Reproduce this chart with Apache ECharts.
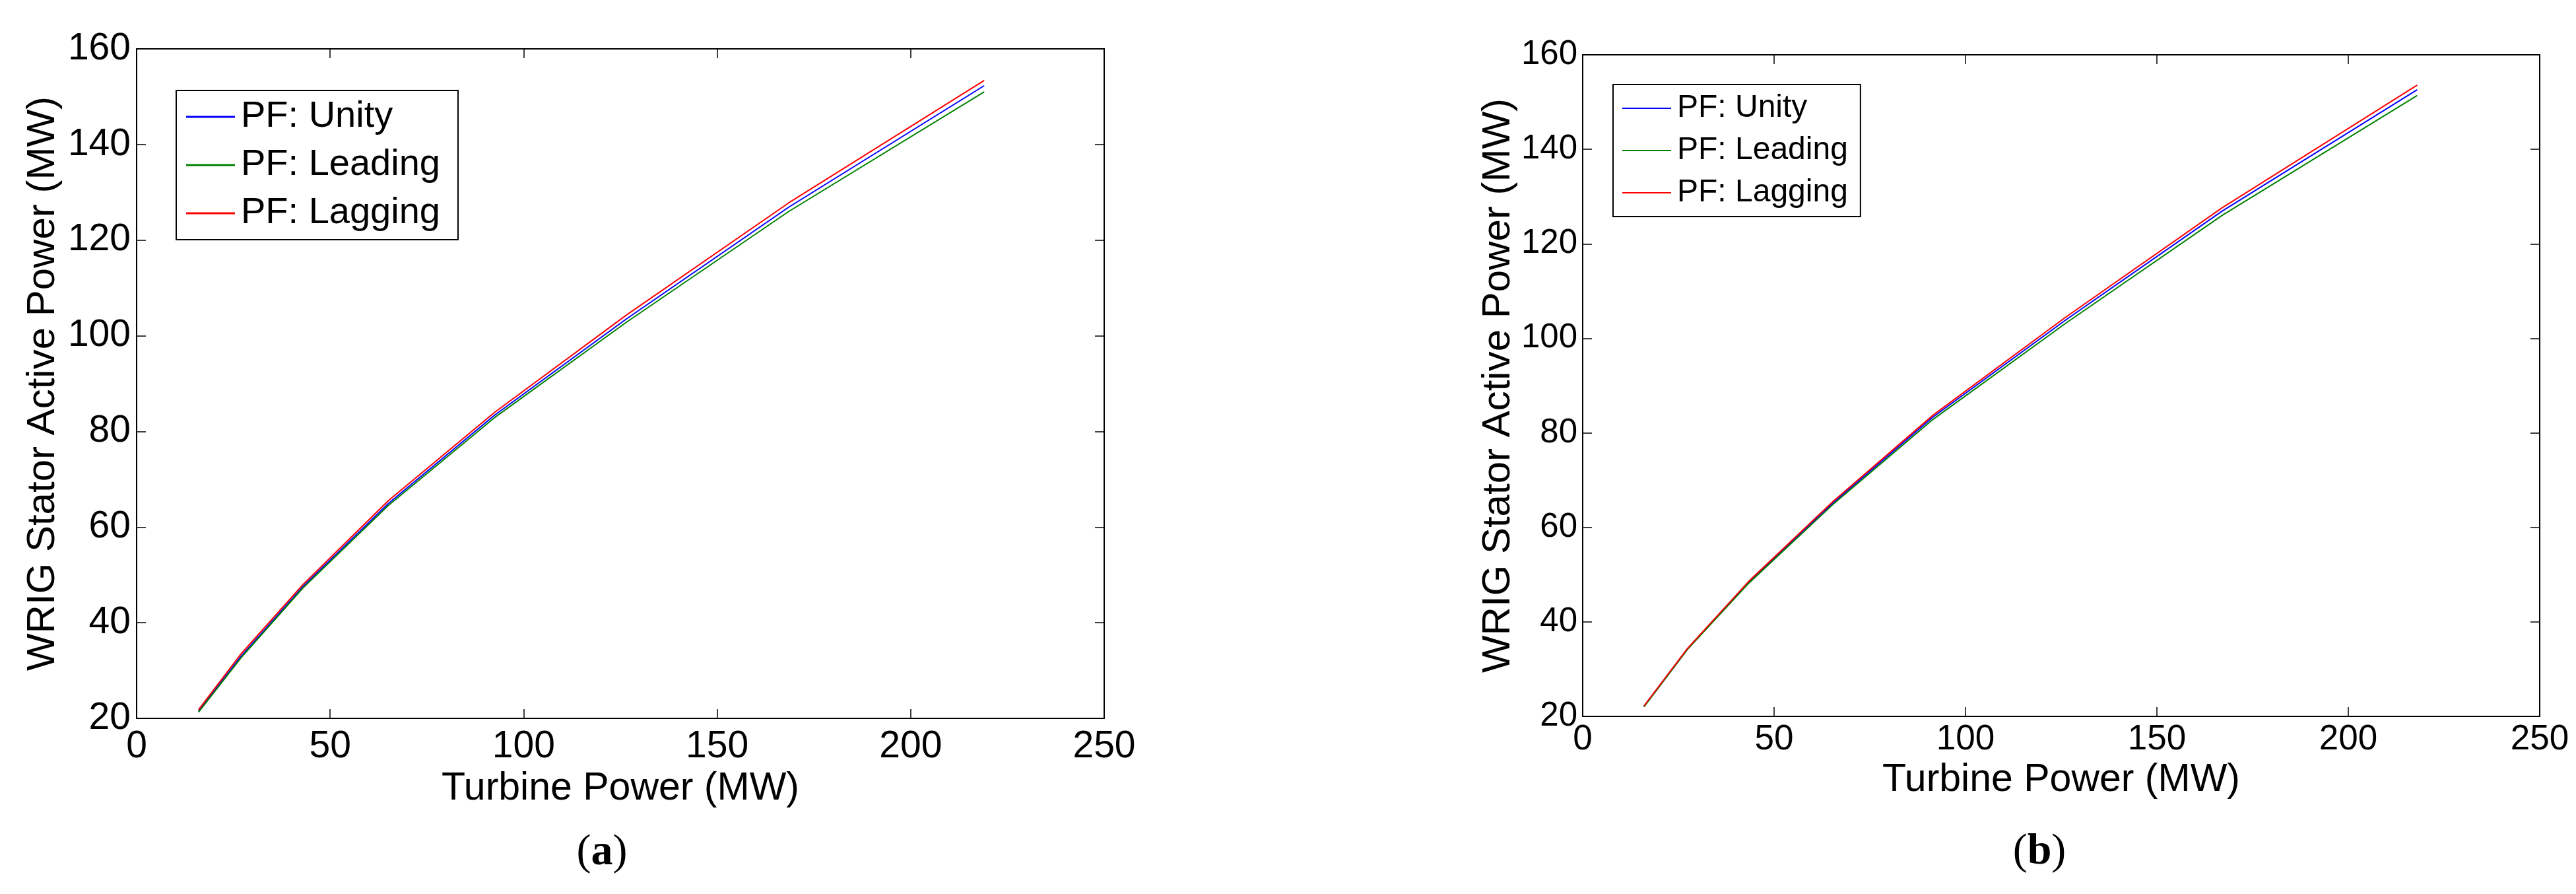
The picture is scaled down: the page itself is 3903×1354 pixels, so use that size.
<!DOCTYPE html>
<html>
<head>
<meta charset="utf-8">
<script src="https://cdn.jsdelivr.net/npm/echarts@6/dist/echarts.min.js"></script>
<style>
  html, body { margin: 0; padding: 0; background: #fff; }
  #main { width: 3903px; height: 1354px; }
</style>
</head>
<body>
<div id="main"></div>
<script>
// panel (a)
var turbineA  = [16, 27, 43, 65, 92.5, 126.5, 168.5, 219];
var unityA    = [21.5, 33.0, 47.6, 64.9, 83.4, 103.5, 126.9, 152.3];
var leadingA  = [21.3, 32.7, 47.3, 64.5, 82.9, 102.8, 126.0, 151.0];
var laggingA  = [21.8, 33.5, 48.0, 65.5, 84.0, 104.3, 127.8, 153.4];
// panel (b)
var turbineB  = [16, 27.4, 43.4, 65.3, 91.6, 126.2, 167, 218];
var unityB    = [22.1, 34.3, 48.4, 65.1, 83.4, 103.9, 126.9, 152.6];
var leadingB  = [22.0, 34.2, 48.2, 64.8, 82.9, 103.2, 126.0, 151.4];
var laggingB  = [22.2, 34.4, 48.6, 65.4, 83.8, 104.5, 127.6, 153.6];

var names  = ['PF: Unity', 'PF: Leading', 'PF: Lagging'];
var colors = ['#0000ff', '#008000', '#ff0000'];
var xMin = 0, xMax = 250, xStep = 50;
var yMin = 20, yMax = 160, yStep = 20;

var sans = "'Liberation Sans', Arial, sans-serif";
var serif = "'Liberation Serif', 'Times New Roman', serif";

function pairs(xs, ys) {
    return xs.map(function (x, i) { return [x, ys[i]]; });
}

function xAxes(grid, fs, margin, gap) {
    var base = {
        gridIndex: grid, type: 'value', min: xMin, max: xMax, interval: xStep,
        axisLine: { onZero: false, lineStyle: { color: '#000', width: 2 } },
        axisTick: { inside: true, length: 14, lineStyle: { color: '#000', width: 1.5 } },
        splitLine: { show: false }
    };
    var bottom = Object.assign({}, base, {
        position: 'bottom',
        axisLabel: { color: '#000', fontSize: fs, fontFamily: sans, margin: margin },
        name: 'Turbine Power (MW)', nameLocation: 'middle', nameGap: gap,
        nameTextStyle: { color: '#000', fontSize: 59, fontFamily: sans }
    });
    var top = Object.assign({}, base, { position: 'top', axisLabel: { show: false } });
    return [bottom, top];
}

function yAxes(grid, fs, margin, gap) {
    var base = {
        gridIndex: grid, type: 'value', min: yMin, max: yMax, interval: yStep,
        axisLine: { onZero: false, lineStyle: { color: '#000', width: 2 } },
        axisTick: { inside: true, length: 14, lineStyle: { color: '#000', width: 1.5 } },
        splitLine: { show: false }
    };
    var left = Object.assign({}, base, {
        position: 'left',
        axisLabel: { color: '#000', fontSize: fs, fontFamily: sans, margin: margin },
        name: 'WRIG Stator Active Power (MW)', nameLocation: 'middle', nameGap: gap,
        nameTextStyle: { color: '#000', fontSize: 60, fontFamily: sans }
    });
    var right = Object.assign({}, base, { position: 'right', axisLabel: { show: false } });
    return [left, right];
}

function lines(xi, yi, xs, sets) {
    return sets.map(function (ys, k) {
        return {
            name: names[k], type: 'line', xAxisIndex: xi, yAxisIndex: yi,
            symbol: 'none', smooth: false,
            itemStyle: { color: colors[k] },
            lineStyle: { color: colors[k], width: 2 },
            data: pairs(xs, ys)
        };
    });
}

var chart = echarts.init(document.getElementById('main'));
chart.setOption({
    backgroundColor: '#fff',
    animation: false,
    grid: [
        { left: 207, right: 3903 - 1673, top: 74, bottom: 1354 - 1088 },
        { left: 2398, right: 3903 - 3848, top: 83, bottom: 1354 - 1085 }
    ],
    xAxis: xAxes(0, 57, 15, 73).concat(xAxes(1, 53, 9, 67)),
    yAxis: yAxes(0, 57, 9, 112).concat(yAxes(1, 51, 8, 98)),
    legend: [
        {
            orient: 'vertical', left: 267, top: 137,
            padding: [12, 27, 12, 15], itemWidth: 74, itemHeight: 3, itemGap: 17,
            icon: 'rect',
            borderColor: '#000', borderWidth: 2, backgroundColor: '#fff',
            textStyle: { color: '#000', fontSize: 56, fontFamily: sans, padding: [0, 0, 0, 4] },
            data: names
        },
        {
            orient: 'vertical', left: 2444, top: 128,
            padding: [12, 19, 12, 14], itemWidth: 74, itemHeight: 2, itemGap: 16,
            icon: 'rect',
            borderColor: '#000', borderWidth: 2, backgroundColor: '#fff',
            textStyle: { color: '#000', fontSize: 48, fontFamily: sans, padding: [0, 0, 0, 4] },
            data: names
        }
    ],
    graphic: [
        {
            type: 'text', x: 912, y: 1292,
            style: {
                text: '{p|(}{b|a}{p|)}', textAlign: 'center', textVerticalAlign: 'middle',
                rich: {
                    p: { fontSize: 66, fontFamily: serif, fill: '#000' },
                    b: { fontSize: 66, fontFamily: serif, fontWeight: 'bold', fill: '#000' }
                }
            }
        },
        {
            type: 'text', x: 3090, y: 1291,
            style: {
                text: '{p|(}{b|b}{p|)}', textAlign: 'center', textVerticalAlign: 'middle',
                rich: {
                    p: { fontSize: 66, fontFamily: serif, fill: '#000' },
                    b: { fontSize: 66, fontFamily: serif, fontWeight: 'bold', fill: '#000' }
                }
            }
        }
    ],
    series: lines(0, 0, turbineA, [unityA, leadingA, laggingA])
        .concat(lines(2, 2, turbineB, [unityB, leadingB, laggingB]))
});
window.addEventListener('resize', function () { chart.resize(); });
</script>
</body>
</html>
